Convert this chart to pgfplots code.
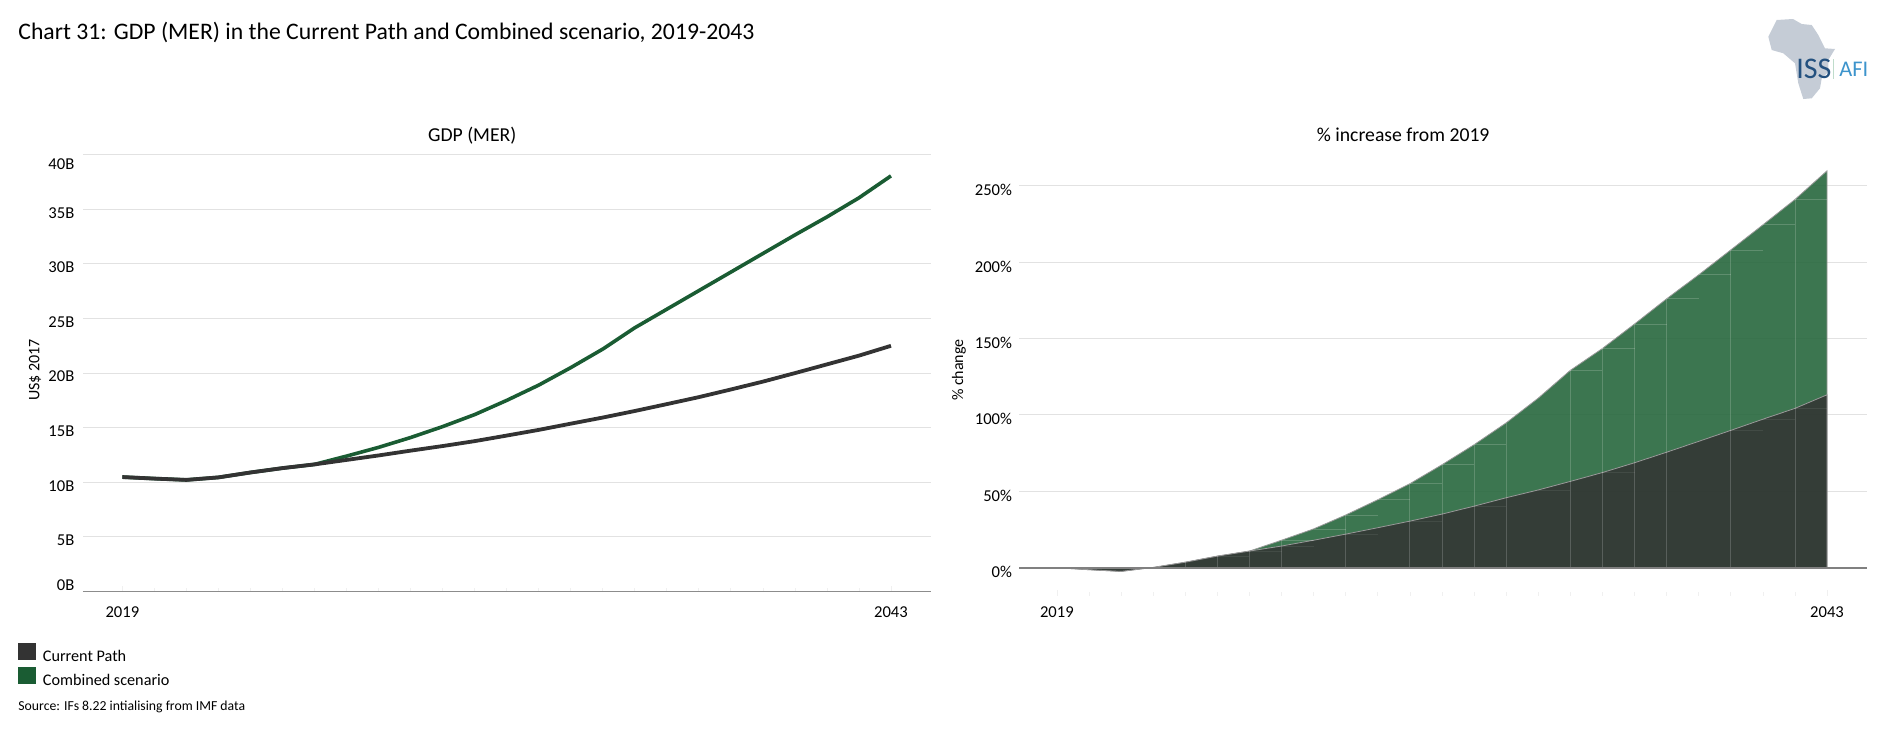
\documentclass[border=0pt]{standalone}
\usepackage{pgfplots}
\pgfplotsset{compat=1.18}
\usepackage{fontspec}
\setmainfont{Carlito}

\definecolor{cpdark}{HTML}{333333}
\definecolor{cbgreen}{HTML}{1A5C33}
\definecolor{areagreen}{HTML}{27673D}
\definecolor{gridgrey}{HTML}{E2E2E2}
\definecolor{tickgrey}{HTML}{F0F0F0}
\definecolor{logogrey}{HTML}{C5CCD6}
\definecolor{logoiss}{HTML}{24517F}
\definecolor{logoafi}{HTML}{3D94CC}
\definecolor{logobar}{HTML}{BFDCCB}

\pgfplotsset{
  panel/.style={
    scale only axis,
    anchor=south west,
    axis x line*=bottom,
    axis y line*=left,
    x axis line style={-},
    y axis line style={draw=none},
    ymajorgrids,
    grid style={gridgrey,line width=0.55pt},
    xtick={2019,2043},
    xticklabels={2019,2043},
    minor xtick={2019,...,2043},
    major tick length=3pt,
    minor tick length=2pt,
    tick style={draw=tickgrey,line width=0.3pt},
    ytick style={draw=none},
    tick label style={font=\fontsize{8.3}{9}\selectfont},
    label style={font=\fontsize{8}{9}\selectfont},
    title style={font=\fontsize{9.85}{11}\selectfont,anchor=center},
    clip=false,
    unbounded coords=jump,
  },
}

\begin{document}
\begin{tikzpicture}
\useasboundingbox (0pt,0pt) rectangle (940pt,-369.5pt);

\begin{axis}[panel,
    at={(41.5pt,-295.75pt)},
    width=424pt, height=218.4pt,
    xmin=2017.77, xmax=2044.25,
    ymin=0, ymax=40,
    ytick={0,5,...,40},
    yticklabels={\raisebox{4.8pt}{0B},5B,10B,15B,20B,25B,30B,35B,\raisebox{-3pt}{40B}},
    yticklabel style={anchor=base east,yshift=-4.4pt,xshift=-0.8pt},
    xticklabel style={yshift=-4.2pt},
    x axis line style={-,draw=black!45,line width=0.5pt},
    ylabel={US\$ 2017},
    y label style={at={(axis description cs:-0.0566,0.507)},anchor=center},
    title={GDP (MER)},
    title style={at={(axis description cs:0.459,1.017)}},
    legend style={at={(axis description cs:-0.0765,-0.1168)},anchor=north west,
      draw=none,fill=none,inner sep=0pt,outer sep=0pt,
      row sep=-0.5pt,font=\fontsize{8.1}{9}\selectfont,
      /tikz/every even column/.append style={column sep=1pt}},
    legend cell align=left,
  ]
  \addlegendimage{legend image code/.code={\fill[cpdark] (0pt,-1.2pt) rectangle (8.5pt,7.0pt);\path (10pt,0pt);}}
  \addlegendentry{Current Path}
  \addlegendimage{legend image code/.code={\fill[cbgreen] (0pt,-1.2pt) rectangle (8.5pt,7.0pt);\path (10pt,0pt);}}
  \addlegendentry{Combined scenario}

  \addplot[forget plot,cbgreen,line width=1.8pt,line join=round] coordinates {
    (2019,10.48) (2020,10.34) (2021,10.22) (2022,10.45) (2023,10.90) (2024,11.30)
    (2025,11.64) (2026,12.40) (2027,13.20) (2028,14.10) (2029,15.10) (2030,16.20)
    (2031,17.50) (2032,18.90) (2033,20.50) (2034,22.20) (2035,24.15) (2036,25.85)
    (2037,27.55) (2038,29.25) (2039,30.95) (2040,32.65) (2041,34.30) (2042,36.05)
    (2043,38.06)};
  \addplot[forget plot,cpdark,line width=1.9pt,line join=round] coordinates {
    (2019,10.48) (2020,10.34) (2021,10.22) (2022,10.45) (2023,10.90) (2024,11.30)
    (2025,11.64) (2026,12.05) (2027,12.46) (2028,12.90) (2029,13.32) (2030,13.77)
    (2031,14.28) (2032,14.80) (2033,15.37) (2034,15.93) (2035,16.53) (2036,17.16)
    (2037,17.80) (2038,18.50) (2039,19.22) (2040,20.00) (2041,20.80) (2042,21.60)
    (2043,22.50)};
\end{axis}

\begin{axis}[panel,
    at={(509.5pt,-298pt)},
    width=424pt, height=214.3pt,
    xmin=2017.82, xmax=2044.245,
    ymin=-18.5, ymax=262,
    ytick={0,50,...,250},
    yticklabels={0\%,50\%,100\%,150\%,200\%,250\%},
    yticklabel style={yshift=-2.2pt},
    x axis line style={draw=none},
    ylabel={\% change},
    y label style={at={(axis description cs:-0.0708,0.527)},anchor=center},
    title={\% increase from 2019},
    title style={at={(axis description cs:0.453,1.048)}},
    xticklabel style={yshift=-1.6pt},
  ]
  % combined scenario area
  \addplot[forget plot,fill=areagreen,fill opacity=0.9,draw=black!40,line width=0.4pt] coordinates {
    (2019,0) (2020,-1.3) (2021,-2.4) (2022,0.2) (2023,3.6) (2024,7.6)
    (2025,10.9) (2026,18.0) (2027,25.4) (2028,34.5) (2029,44.5) (2030,55.0)
    (2031,67.4) (2032,80.5) (2033,94.8) (2034,111.0) (2035,129.2) (2036,143.5)
    (2037,159.5) (2038,176.0) (2039,191.7) (2040,208.0) (2041,224.4) (2042,241.0)
    (2043,259.8) (2043,0)} -- cycle;
  % current path area
  \addplot[forget plot,fill=cpdark,fill opacity=0.85,draw=black!40,line width=0.4pt] coordinates {
    (2019,0) (2020,-1.3) (2021,-2.4) (2022,0.2) (2023,3.6) (2024,7.6)
    (2025,10.9) (2026,14.2) (2027,18.0) (2028,22.0) (2029,26.2) (2030,30.5)
    (2031,35.1) (2032,40.3) (2033,45.8) (2034,50.9) (2035,56.5) (2036,62.3)
    (2037,68.7) (2038,75.6) (2039,82.7) (2040,89.9) (2041,97.2) (2042,104.3)
    (2043,113.2) (2043,0)} -- cycle;
  % seams between the yearly segments
  \addplot[forget plot,white,opacity=0.18,line width=0.4pt] coordinates {
    (2023,0) (2023,3.6) (2023,nan) (2024,0) (2024,7.6) (2024,nan)
    (2025,0) (2025,10.9) (2025,nan) (2026,0) (2026,18.0) (2026,nan)
    (2028,0) (2028,34.5) (2028,nan) (2030,0) (2030,55.0) (2030,nan)
    (2031,0) (2031,67.4) (2031,nan) (2032,0) (2032,80.5) (2032,nan)
    (2033,0) (2033,94.8) (2033,nan) (2035,0) (2035,129.2) (2035,nan)
    (2036,0) (2036,143.5) (2036,nan) (2037,0) (2037,159.5) (2037,nan)
    (2038,0) (2038,176.0) (2038,nan) (2040,0) (2040,208.0) (2040,nan)
    (2042,0) (2042,241.0)};
  \addplot[forget plot,white,opacity=0.18,line width=0.4pt] coordinates {
    (2026,18.0) (2027,18.0) (2027,nan) (2027,25.4) (2028,25.4) (2028,nan)
    (2028,34.5) (2029,34.5) (2029,nan) (2029,44.5) (2030,44.5) (2030,nan)
    (2030,55.0) (2031,55.0) (2031,nan) (2031,67.4) (2032,67.4) (2032,nan)
    (2032,80.5) (2033,80.5) (2033,nan) (2035,129.2) (2036,129.2) (2036,nan)
    (2036,143.5) (2037,143.5) (2037,nan) (2037,159.5) (2038,159.5) (2038,nan)
    (2038,176.0) (2039,176.0) (2039,nan) (2039,191.7) (2040,191.7) (2040,nan)
    (2040,208.0) (2041,208.0) (2041,nan) (2041,224.4) (2042,224.4) (2042,nan)
    (2042,241.0) (2043,241.0)};
  \addplot[forget plot,white,opacity=0.07,line width=0.4pt] coordinates {
    (2024,7.6) (2025,7.6) (2025,nan) (2025,10.9) (2026,10.9) (2026,nan)
    (2026,14.2) (2027,14.2) (2027,nan) (2028,22.0) (2029,22.0) (2029,nan)
    (2030,30.5) (2031,30.5) (2031,nan) (2032,40.3) (2033,40.3) (2033,nan)
    (2034,50.9) (2035,50.9) (2035,nan) (2036,62.3) (2037,62.3) (2037,nan)
    (2040,89.9) (2041,89.9) (2041,nan) (2041,97.2) (2042,97.2) (2042,nan)
    (2042,104.3) (2043,104.3)};
  % zero line
  \addplot[forget plot,black!50,line width=1pt] coordinates {(2017.82,0) (2044.245,0)};
\end{axis}

\begin{scope}[x=0.5pt,y=-0.5pt]
  \node[anchor=west,inner sep=0pt,font=\fontsize{11.85}{14}\selectfont] at (18,32) {Chart 31: GDP (MER) in the Current Path and Combined scenario, 2019-2043};
  \node[anchor=west,inner sep=0pt,font=\fontsize{6.87}{8}\selectfont] at (18,707) {Source: IFs 8.22 intialising from IMF data};
  % logo
  \fill[logogrey] (1776.7,20) -- (1793,19) -- (1801.7,24) -- (1811.7,25) -- (1818.3,35) -- (1825,48.3) -- (1835,49) -- (1828.3,60) -- (1828.3,71.7) -- (1821.7,78.3) -- (1820,88.3) -- (1811.7,98.3) -- (1803.3,99) -- (1798.3,83.3) -- (1795,63.3) -- (1783.3,53.3) -- (1771.7,50) -- (1768.3,36.7) -- cycle;
  \node[anchor=west,inner sep=0pt,text=logoiss,font=\fontsize{15}{16}\selectfont] at (1796,69) {ISS};
  \fill[logobar] (1832.5,59) rectangle (1834,79);
  \node[anchor=west,inner sep=0pt,text=logoafi,font=\fontsize{11.2}{13}\selectfont] at (1839,69.5) {AFI};
\end{scope}
\end{tikzpicture}
\end{document}
